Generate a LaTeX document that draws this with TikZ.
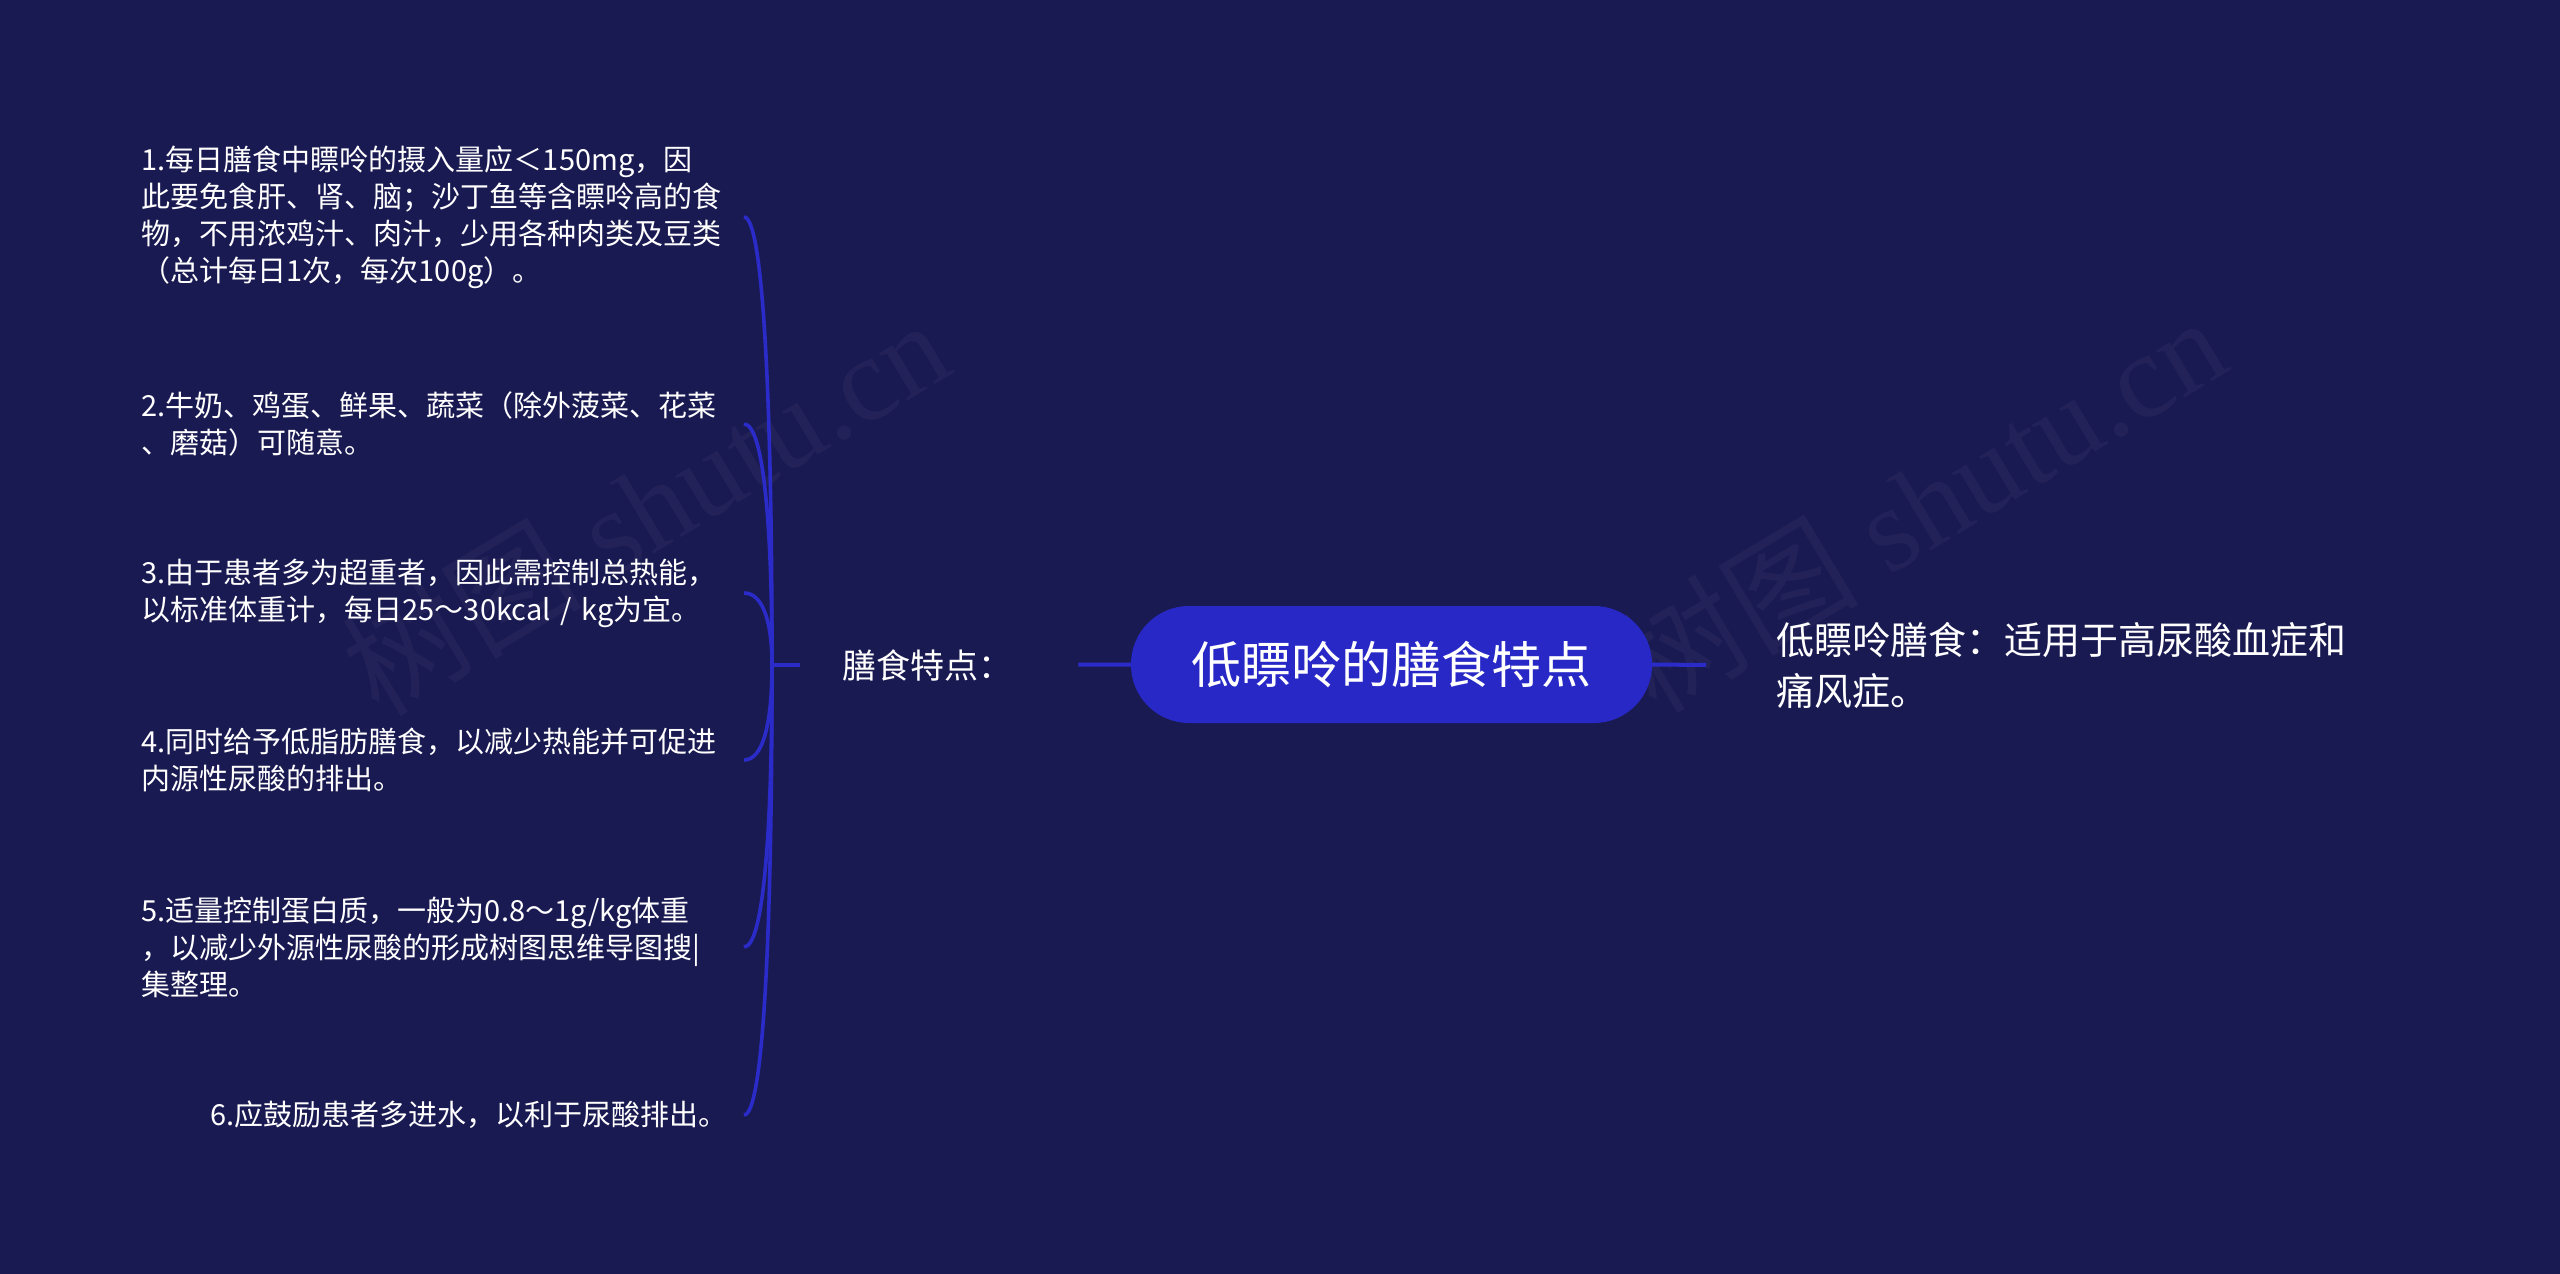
\documentclass[tikz,border=0pt]{standalone}
\usepackage{fontspec}
\setmainfont{Noto Sans CJK SC}
\newfontfamily\wmlatin{Liberation Serif}
\usetikzlibrary{calc}
\definecolor{bgc}{HTML}{1A1A52}
\definecolor{rootfill}{HTML}{2828C6}
\definecolor{linec}{HTML}{2B2BCA}
\begin{document}
\begin{tikzpicture}[x=1pt,y=-1pt,
  itemtext/.style={anchor=east, inner sep=0pt, text=white, align=left, font=\fontsize{29}{37}\selectfont},
  brline/.style={draw=linec, line width=3.6pt},
  wmark/.style={rotate=31, text=white, opacity=0.035, inner sep=0pt, font=\fontsize{120}{125}\selectfont}]
\fill[bgc] (0,0) rectangle (2560,1274);
\useasboundingbox (0,0) rectangle (2560,1274);

% watermarks
\node[wmark] (wm1) at (645,506) {树图\wmlatin\ shutu.cn};
\node[wmark] (wm2) at (1922,503) {树图\wmlatin\ shutu.cn};

% root
\node[fill=rootfill, rounded corners=58pt, minimum width=521pt, minimum height=117pt,
      inner sep=0pt, text=white, font=\fontsize{50}{60}\selectfont] (root) at (1391.5,664.5) {低瞟呤的膳食特点};

% left label
\node[anchor=west, inner sep=0pt, text=white, font=\fontsize{34}{40}\selectfont] (lbl) at (842,665) {膳食特点：};

% right text
\node[anchor=west, inner sep=0pt, text=white, align=left, font=\fontsize{38}{51}\selectfont] (rt) at (1776,665)
  {低瞟呤膳食：适用于高尿酸血症和\\痛风症。};

% items
\node[itemtext, text width=586pt] (i1) at (728,217)
  {1.每日膳食中瞟呤的摄入量应＜150mg，因\\此要免食肝、肾、脑；沙丁鱼等含瞟呤高的食\\物，不用浓鸡汁、肉汁，少用各种肉类及豆类\\（总计每日1次，每次100g）。};
\node[itemtext, text width=586pt] (i2) at (728,424)
  {2.牛奶、鸡蛋、鲜果、蔬菜（除外菠菜、花菜\\、磨菇）可随意。};
\node[itemtext, text width=586pt] (i3) at (728,593)
  {3.由于患者多为超重者，因此需控制总热能，\\以标准体重计，每日25～30kcal / kg为宜。};
\node[itemtext, text width=586pt] (i4) at (728,760)
  {4.同时给予低脂肪膳食，以减少热能并可促进\\内源性尿酸的排出。};
\node[itemtext, text width=586pt] (i5) at (728,947)
  {5.适量控制蛋白质，一般为0.8～1g/kg体重\\，以减少外源性尿酸的形成树图思维导图搜|\\集整理。};
\node[itemtext] (i6) at (728,1115) {6.应鼓励患者多进水，以利于尿酸排出。};

% connectors
\coordinate (J) at (772,665);
\draw[brline, line width=4pt, shorten <=66pt] (lbl.east) -- (root.west);
\draw[brline, line width=4pt] (root.east) -- ($(rt.west)+(-70,0)$);
\draw[brline, line width=4pt, shorten >=42pt] (J) -- (lbl.west);
\draw[brline] (J) .. controls +(0,-269) and +(19,0) .. ([xshift=16pt]i1.east);
\draw[brline] (J) .. controls +(0,-145) and +(19,0) .. ([xshift=16pt]i2.east);
\draw[brline] (J) .. controls +(0,-43) and +(19,0) .. ([xshift=16pt]i3.east);
\draw[brline] (J) .. controls +(0,59) and +(19,0) .. ([xshift=16pt]i4.east);
\draw[brline] (J) .. controls +(0,172) and +(19,0) .. ([xshift=16pt]i5.east);
\draw[brline] (J) .. controls +(0,274) and +(19,0) .. ([xshift=16pt]i6.east);
\end{tikzpicture}
\end{document}
